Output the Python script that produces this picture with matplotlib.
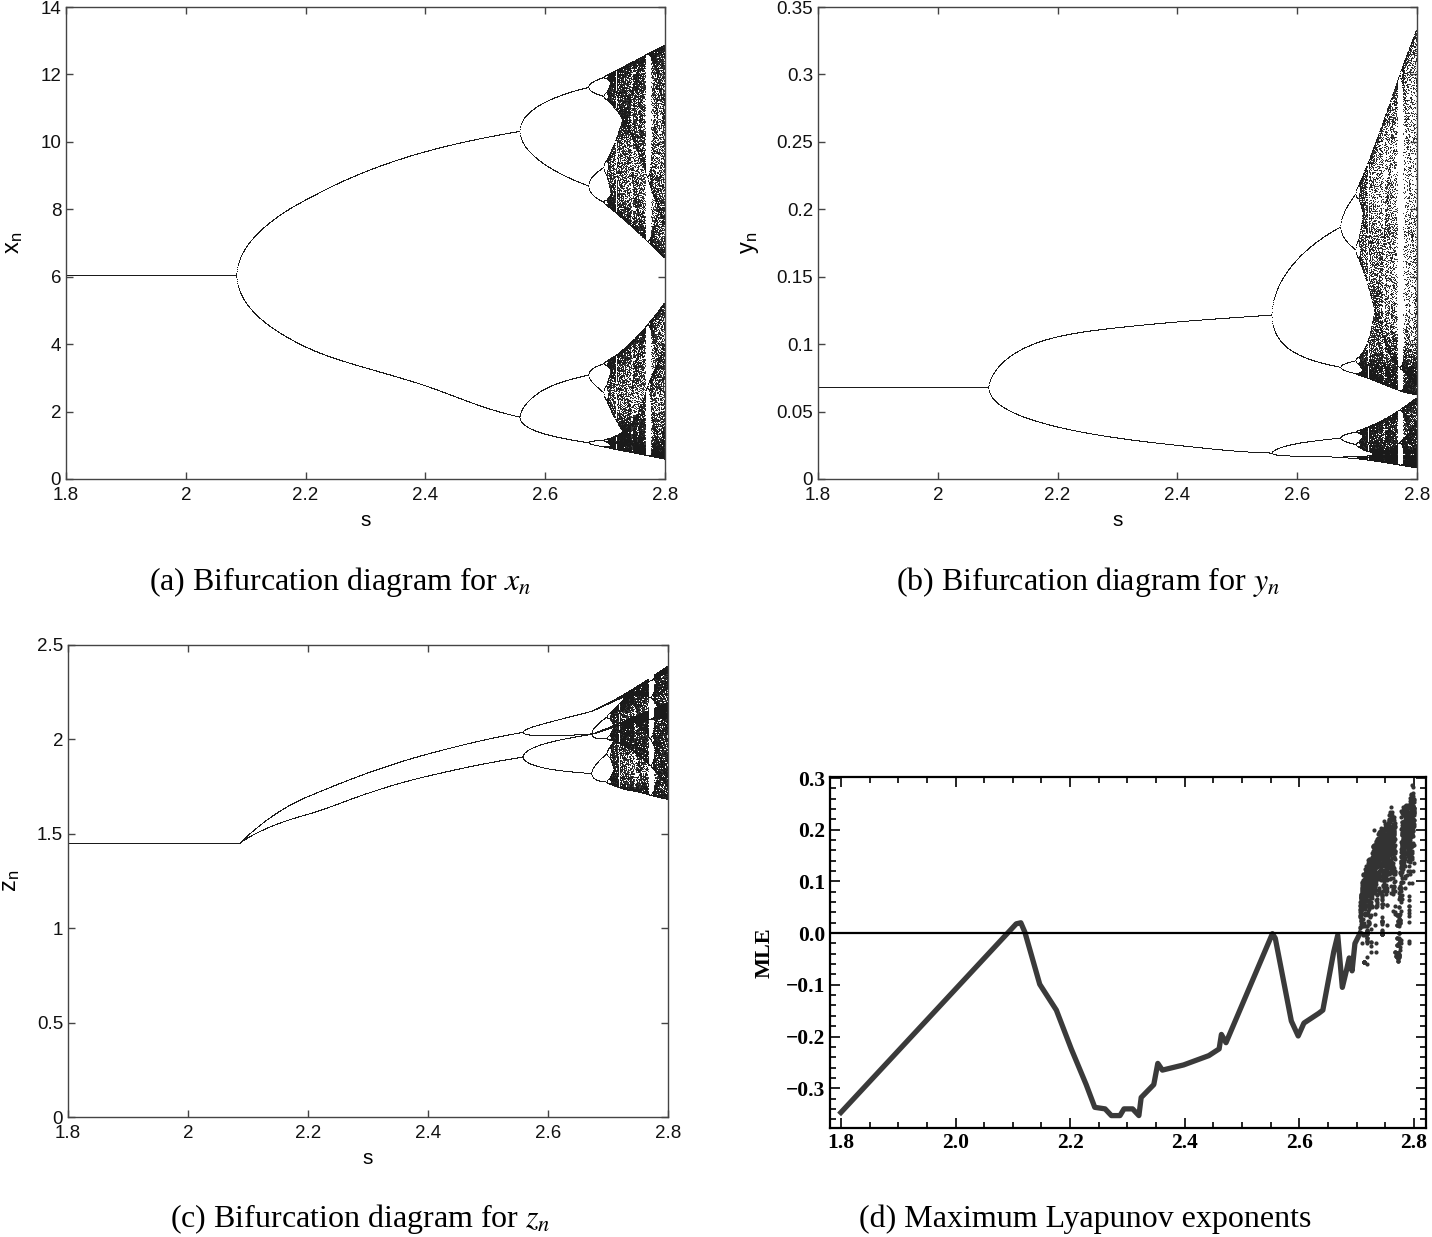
import numpy as np
import matplotlib.pyplot as plt
from matplotlib.ticker import MultipleLocator

plt.rcParams['font.family'] = ['Liberation Sans', 'DejaVu Sans']
plt.rcParams['mathtext.fontset'] = 'stix'

# --- values -----------------------------------------------------------------
# period-doubling landmarks on the s axis, paired with the logistic parameter
# that sits at the same place in the cascade (3, 3.449, 3.544, 3.564, p6 window)
s_marks = [1.8, 2.085, 2.557, 2.672, 2.697, 2.768, 2.8]
r_marks = [2.75, 3.0, 3.449, 3.544, 3.564, 3.6275, 3.655]

# branch heights of (a), (b), (c) against the orbit's deviation v from its fixed point
xv = [-0.438, -0.353, -0.2701, -0.2125, -0.1252, 0.0, 0.0901, 0.107, 0.1267, 0.1397, 0.166, 0.1874]
xn = [0.6, 1.1, 1.85, 2.85, 3.93, 6.05, 8.29, 8.9, 9.73, 10.32, 11.62, 12.9]

yv = [-0.45, -0.353, -0.2701, -0.2173, -0.1252, 0.0, 0.0901, 0.1267, 0.1397, 0.166, 0.19]
yn = [0.008, 0.018, 0.0196, 0.0253, 0.0389, 0.068, 0.1058, 0.1169, 0.1219, 0.142, 0.25]
y_split = [1.4, 5.8]   # opening of the period-4 forks below / above the fixed point

zv = [-0.45, -0.353, -0.311, -0.2701, -0.2173, -0.1252, 0.0, 0.0901, 0.1267, 0.1397, 0.1489, 0.166, 0.19]
zn = [2.6, 2.3, 2.106, 2.04, 1.926, 1.70, 1.45, 1.606, 1.81, 1.908, 1.986, 2.06, 2.2]
z_mix = 0.71
z_lift = [0.55, 0.85]  # upward drift of (c) after the 2-cycle splits / after the 4-cycle

# (d) MLE curve
mle_s = [1.8, 2.106, 2.114, 2.121, 2.147, 2.176, 2.202, 2.228, 2.243, 2.261, 2.272,
         2.287, 2.294, 2.309, 2.32, 2.324, 2.346, 2.353, 2.361, 2.398, 2.442, 2.46,
         2.464, 2.472, 2.553, 2.558, 2.586, 2.598, 2.608, 2.634, 2.641, 2.66, 2.667,
         2.675, 2.682, 2.687, 2.692, 2.697, 2.706]
mle = [-0.347, 0.018, 0.02, 0.002, -0.099, -0.149, -0.224, -0.293, -0.337, -0.34, -0.353,
       -0.353, -0.34, -0.34, -0.353, -0.318, -0.293, -0.252, -0.265, -0.255, -0.237, -0.224,
       -0.196, -0.212, -0.001, -0.01, -0.17, -0.199, -0.174, -0.155, -0.149, -0.036, -0.004,
       -0.105, -0.073, -0.048, -0.073, -0.02, 0.0]
mle_scale = 0.8


def pchip(xk, yk, x):
    # shape preserving cubic through the read-off points
    xk, yk = np.asarray(xk, float), np.asarray(yk, float)
    h = np.diff(xk)
    dl = np.diff(yk) / h
    m = np.zeros_like(yk)
    m[0], m[-1] = dl[0], dl[-1]
    for k in range(1, len(xk) - 1):
        if dl[k - 1] * dl[k] > 0:
            w1, w2 = 2 * h[k] + h[k - 1], h[k] + 2 * h[k - 1]
            m[k] = (w1 + w2) / (w1 / dl[k - 1] + w2 / dl[k])
    x = np.clip(x, xk[0], xk[-1])
    i = np.clip(np.searchsorted(xk, x) - 1, 0, len(h) - 1)
    t = (x - xk[i]) / h[i]
    return ((2 * t**3 - 3 * t**2 + 1) * yk[i] + (t**3 - 2 * t**2 + t) * h[i] * m[i]
            + (-2 * t**3 + 3 * t**2) * yk[i + 1] + (t**3 - t**2) * h[i] * m[i + 1])


# --- orbits -----------------------------------------------------------------
s = np.linspace(1.8, 2.8, 1800)
r = np.interp(s, s_marks, r_marks)
u = np.full_like(s, 0.3)
for i in range(2500):
    u = r * u * (1 - u)
keep = 200
U = np.empty((keep + 2, s.size))
for i in range(keep + 2):
    u = r * u * (1 - u)
    U[i] = u
V = U - (1 - 1 / r)
vn, v2 = V[:-2], V[2:]
S = np.broadcast_to(s, vn.shape).ravel()

X = pchip(xv, xn, vn)
d = 0.06 * np.tanh((vn - v2) / 0.06)
Y = pchip(yv, yn, vn) * np.exp(np.where(vn > 0, y_split[1], y_split[0]) * d)
Z = (pchip(zv, zn, z_mix * vn + (1 - z_mix) * v2)
     + z_lift[0] * np.clip(r - 3.449, 0, None) + z_lift[1] * np.clip(r - 3.544, 0, None))

# finite-time Lyapunov exponents over overlapping windows of 40 steps
lyap = np.log(np.abs(r * (1 - 2 * U[:-2])) + 1e-12)
win = mle_scale * np.array([lyap[k:k + 40].mean(axis=0) for k in range(0, 161, 20)])
chaos = s >= 2.706

# --- figure -----------------------------------------------------------------
W, H = 1432, 1237
fig = plt.figure(figsize=(W / 100, H / 100), dpi=100)


def box(l, t, r_, b):
    return [l / W, 1 - b / H, (r_ - l) / W, (b - t) / H]


def matlab_style(ax, ylim, yticks, ylab):
    ax.set_xlim(1.8, 2.8)
    ax.set_ylim(*ylim)
    ax.set_xticks([1.8, 2, 2.2, 2.4, 2.6, 2.8])
    ax.set_xticklabels(['1.8', '2', '2.2', '2.4', '2.6', '2.8'])
    ax.set_yticks(yticks)
    ax.set_yticklabels(['%g' % t for t in yticks])
    ax.tick_params(direction='in', top=True, right=True, length=5, width=1,
                   labelsize=13.5, color='#444', labelcolor='#111')
    ax.tick_params(axis='x', pad=6)
    for sp in ax.spines.values():
        sp.set_linewidth(1.0)
        sp.set_color('#444')
    ax.set_xlabel('s', fontsize=15, labelpad=5)
    ax.set_ylabel(ylab, fontsize=17, labelpad=11)


dot = dict(ls='none', marker='.', ms=1.3, mew=0, color='#1a1a1a', rasterized=True)

axa = fig.add_axes(box(66, 7, 665, 479))
axa.plot(S, X.ravel(), **dot)
matlab_style(axa, (0, 14), list(range(0, 15, 2)), r'x$_{\mathregular{n}}$')

axb = fig.add_axes(box(818, 7, 1417, 479))
axb.plot(S, Y.ravel(), **dot)
matlab_style(axb, (0, 0.35), [0, 0.05, 0.1, 0.15, 0.2, 0.25, 0.3, 0.35], r'y$_{\mathregular{n}}$')

axc = fig.add_axes(box(68, 645, 668, 1117))
axc.plot(S, Z.ravel(), **dot)
matlab_style(axc, (0, 2.5), [0, 0.5, 1, 1.5, 2, 2.5], r'z$_{\mathregular{n}}$')

axd = fig.add_axes(box(830, 777, 1426, 1128))
axd.plot(mle_s, mle, color='#3a3a3a', lw=3.8, solid_joinstyle='round')
sc = np.repeat(s[chaos][None, :], win.shape[0], axis=0)
wv = win[:, chaos]
ok = wv > -0.06
axd.plot(sc[ok], wv[ok], ls='none', marker='o', ms=3.0, mew=0, color='#333333')
axd.axhline(0, color='k', lw=1.6)
axd.set_xlim(1.781, 2.821)
axd.set_ylim(-0.377, 0.302)
axd.set_xticks([1.8, 2.0, 2.2, 2.4, 2.6, 2.8])
axd.set_xticklabels(['1.8', '2.0', '2.2', '2.4', '2.6', '2.8'])
yt = [-0.3, -0.2, -0.1, 0.0, 0.1, 0.2, 0.3]
axd.set_yticks(yt)
axd.set_yticklabels(['%.1f' % t if t >= 0 else '\u2212%.1f' % -t for t in yt])
axd.xaxis.set_minor_locator(MultipleLocator(0.05))
axd.yaxis.set_minor_locator(MultipleLocator(0.02))
axd.tick_params(which='both', direction='in', top=True, right=True, width=1.2, color='k')
axd.tick_params(which='major', length=7)
axd.tick_params(which='minor', length=4)
for lab in axd.get_xticklabels() + axd.get_yticklabels():
    lab.set_family('Liberation Serif')
    lab.set_weight('bold')
    lab.set_size(15.5)
for sp in axd.spines.values():
    sp.set_linewidth(1.6)
axd.set_ylabel('MLE', family='Liberation Serif', weight='bold', fontsize=16, labelpad=8)

cap = dict(family='Liberation Serif', fontsize=23, ha='center', va='center')
fig.text(340 / W, 1 - 582 / H, r'(a) Bifurcation diagram for $x_n$', **cap)
fig.text(1088 / W, 1 - 582 / H, r'(b) Bifurcation diagram for $y_n$', **cap)
fig.text(360 / W, 1 - 1219 / H, r'(c) Bifurcation diagram for $z_n$', **cap)
fig.text(1085 / W, 1 - 1219 / H, '(d) Maximum Lyapunov exponents', **cap)

fig.savefig('out.png', dpi=100)
